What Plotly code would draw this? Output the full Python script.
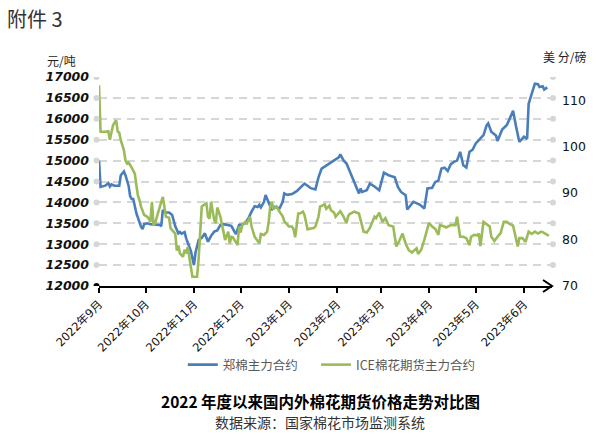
import plotly.graph_objects as go

# ---------------- data ----------------
zce_dates = [
    "2022-09-01", "2022-09-02", "2022-09-05", "2022-09-07", "2022-09-08", "2022-09-09", "2022-09-11",
    "2022-09-14", "2022-09-15", "2022-09-17", "2022-09-18", "2022-09-19", "2022-09-20", "2022-09-21",
    "2022-09-22", "2022-09-23", "2022-09-24", "2022-09-25", "2022-09-28", "2022-09-29", "2022-09-30",
    "2022-10-02", "2022-10-04", "2022-10-07", "2022-10-10", "2022-10-11", "2022-10-12", "2022-10-14",
    "2022-10-16", "2022-10-18", "2022-10-20", "2022-10-22", "2022-10-23", "2022-10-24", "2022-10-26",
    "2022-10-27", "2022-10-30", "2022-11-01", "2022-11-02", "2022-11-04", "2022-11-06", "2022-11-08",
    "2022-11-10", "2022-11-12", "2022-11-14", "2022-11-16", "2022-11-18", "2022-11-20", "2022-11-23",
    "2022-11-25", "2022-11-27", "2022-11-28", "2022-11-30", "2022-12-02", "2022-12-04", "2022-12-06",
    "2022-12-08", "2022-12-10", "2022-12-12", "2022-12-13", "2022-12-14", "2022-12-16", "2022-12-17",
    "2022-12-19", "2022-12-21", "2022-12-22", "2022-12-24", "2022-12-26", "2022-12-28", "2022-12-29",
    "2022-12-31", "2023-01-03", "2023-01-06", "2023-01-09", "2023-01-11", "2023-01-13", "2023-01-15",
    "2023-01-18", "2023-01-20", "2023-01-22", "2023-01-24", "2023-01-27", "2023-01-30", "2023-02-02",
    "2023-02-03", "2023-02-05", "2023-02-07", "2023-02-10", "2023-02-13", "2023-02-15", "2023-02-16",
    "2023-02-17", "2023-02-20", "2023-02-22", "2023-02-25", "2023-02-28", "2023-03-03", "2023-03-06",
    "2023-03-10", "2023-03-12", "2023-03-14", "2023-03-17", "2023-03-18", "2023-03-20", "2023-03-22",
    "2023-03-26", "2023-03-29", "2023-03-31", "2023-04-03", "2023-04-05", "2023-04-07", "2023-04-09",
    "2023-04-11", "2023-04-13", "2023-04-15", "2023-04-17", "2023-04-19", "2023-04-21", "2023-04-23",
    "2023-04-25", "2023-04-27", "2023-04-29", "2023-05-01", "2023-05-03", "2023-05-06", "2023-05-08",
    "2023-05-09", "2023-05-11", "2023-05-14", "2023-05-15", "2023-05-16", "2023-05-18", "2023-05-21",
    "2023-05-23", "2023-05-25", "2023-05-27", "2023-05-29", "2023-05-31", "2023-06-01", "2023-06-03",
    "2023-06-04", "2023-06-06", "2023-06-08", "2023-06-10", "2023-06-11", "2023-06-13", "2023-06-14",
    "2023-06-16",
]
zce_values = [
    15000, 14370, 14400, 14460, 14380, 14430, 14400,
    14400, 14650, 14740, 14650, 14500, 14400, 14150,
    14080, 14080, 13935, 13740, 13420, 13360, 13480,
    13500, 13480, 13470, 13460, 13430, 13815, 13760,
    13760, 13700, 13430, 13260, 13290, 13250, 13290,
    13140, 12840, 12500, 12800, 13100, 13150, 13260,
    13060, 13200, 13300, 13330, 13460, 13480, 13460,
    13440, 13300, 13240, 13460, 13470, 13500, 13620,
    13780, 13910, 13890, 13940, 13880, 14015, 14175,
    14015, 13815, 13900, 13880, 13860, 14015, 14215,
    14180, 14200, 14270, 14370, 14450, 14400, 14340,
    14310, 14600, 14810, 14860, 14930, 14995, 15075,
    15150, 15010, 14930, 14650, 14410, 14215, 14330,
    14250, 14290, 14450, 14380, 14290, 14710, 14650,
    14600, 14370, 14250, 14170, 13830, 13930, 14015,
    13950, 13855, 14335, 14350, 14490, 14520, 14810,
    14830, 14750, 14915, 14970, 15000, 15210, 14890,
    14835, 15210, 15260, 15410, 15490, 15610, 15845,
    15890, 15690, 15600, 15470, 15560, 15745, 15850,
    16045, 16190, 15800, 15450, 15530, 15570, 15520,
    16360, 16600, 16840, 16830, 16760, 16780, 16700,
    16750,
]

ice_dates = [
    "2022-09-01", "2022-09-02", "2022-09-05", "2022-09-07", "2022-09-08", "2022-09-09", "2022-09-10",
    "2022-09-12", "2022-09-13", "2022-09-14", "2022-09-15", "2022-09-17", "2022-09-18", "2022-09-19",
    "2022-09-20", "2022-09-22", "2022-09-23", "2022-09-24", "2022-09-25", "2022-09-26", "2022-09-27",
    "2022-09-28", "2022-09-30", "2022-10-02", "2022-10-03", "2022-10-04", "2022-10-05", "2022-10-06",
    "2022-10-07", "2022-10-09", "2022-10-10", "2022-10-11", "2022-10-12", "2022-10-14", "2022-10-16",
    "2022-10-17", "2022-10-18", "2022-10-20", "2022-10-21", "2022-10-22", "2022-10-23", "2022-10-25",
    "2022-10-26", "2022-10-27", "2022-10-28", "2022-10-29", "2022-10-30", "2022-10-31", "2022-11-01",
    "2022-11-03", "2022-11-04", "2022-11-05", "2022-11-06", "2022-11-07", "2022-11-09", "2022-11-10",
    "2022-11-11", "2022-11-12", "2022-11-13", "2022-11-14", "2022-11-15", "2022-11-16", "2022-11-18",
    "2022-11-19", "2022-11-20", "2022-11-21", "2022-11-22", "2022-11-23", "2022-11-24", "2022-11-25",
    "2022-11-26", "2022-11-28", "2022-11-29", "2022-11-30", "2022-12-01", "2022-12-02", "2022-12-04",
    "2022-12-05", "2022-12-07", "2022-12-08", "2022-12-10", "2022-12-11", "2022-12-13", "2022-12-14",
    "2022-12-16", "2022-12-18", "2022-12-19", "2022-12-20", "2022-12-21", "2022-12-22", "2022-12-24",
    "2022-12-26", "2022-12-28", "2022-12-29", "2022-12-31", "2023-01-01", "2023-01-03", "2023-01-04",
    "2023-01-05", "2023-01-06", "2023-01-07", "2023-01-08", "2023-01-10", "2023-01-11", "2023-01-13",
    "2023-01-15", "2023-01-17", "2023-01-18", "2023-01-20", "2023-01-21", "2023-01-22", "2023-01-24",
    "2023-01-25", "2023-01-27", "2023-01-28", "2023-01-30", "2023-01-31", "2023-02-03", "2023-02-05",
    "2023-02-07", "2023-02-08", "2023-02-09", "2023-02-12", "2023-02-15", "2023-02-16", "2023-02-18",
    "2023-02-20", "2023-02-22", "2023-02-25", "2023-02-26", "2023-02-28", "2023-03-02", "2023-03-04",
    "2023-03-06", "2023-03-09", "2023-03-11", "2023-03-13", "2023-03-15", "2023-03-17", "2023-03-19",
    "2023-03-21", "2023-03-24", "2023-03-25", "2023-03-27", "2023-03-29", "2023-03-31", "2023-04-01",
    "2023-04-03", "2023-04-05", "2023-04-07", "2023-04-08", "2023-04-10", "2023-04-12", "2023-04-15",
    "2023-04-17", "2023-04-18", "2023-04-19", "2023-04-21", "2023-04-23", "2023-04-25", "2023-04-27",
    "2023-04-28", "2023-04-30", "2023-05-02", "2023-05-03", "2023-05-04", "2023-05-06", "2023-05-08",
    "2023-05-10", "2023-05-11", "2023-05-13", "2023-05-15", "2023-05-17", "2023-05-19", "2023-05-21",
    "2023-05-23", "2023-05-25", "2023-05-28", "2023-05-29", "2023-05-31", "2023-06-02", "2023-06-04",
    "2023-06-06", "2023-06-08", "2023-06-10", "2023-06-12", "2023-06-13", "2023-06-16", "2023-06-17",
]
ice_values = [
    113.2, 103.2, 103.2, 103.3, 101.5, 103.3, 104.6,
    105.7, 103.3, 103.0, 101.4, 99.2, 97.0, 96.4,
    96.6, 95.5, 94.9, 94.2, 91.7, 89.5, 88.5,
    87.1, 85.3, 84.9, 84.5, 83.8, 88.1, 83.1,
    83.5, 85.5, 87.0, 88.1, 89.2, 84.9, 84.7,
    82.4, 82.0, 81.3, 77.6, 78.7, 77.0, 76.3,
    77.8, 77.0, 78.4, 76.0, 74.2, 72.0, 72.0,
    72.0, 75.9, 80.6, 87.1, 87.4, 87.8, 84.9,
    84.5, 88.1, 86.5, 84.2, 83.5, 86.9, 84.9,
    82.8, 81.6, 79.9, 81.0, 81.7, 79.2, 80.6,
    80.5, 79.2, 78.8, 82.8, 81.5, 83.1, 83.8,
    83.5, 84.9, 82.8, 80.6, 80.1, 79.2, 81.2,
    81.0, 81.7, 83.8, 87.1, 88.1, 86.5, 87.1,
    86.0, 85.0, 84.0, 83.1, 82.8, 82.8, 82.2,
    80.5, 82.8, 85.6, 85.6, 86.0, 85.3, 82.2,
    82.4, 82.5, 82.8, 84.9, 87.1, 87.3, 87.6,
    86.6, 87.3, 86.3, 85.8, 84.9, 86.1, 85.0,
    83.5, 85.0, 85.5, 86.0, 85.6, 84.3, 81.7,
    81.5, 82.5, 84.9, 84.6, 85.8, 83.8, 84.6,
    83.1, 82.8, 78.5, 79.8, 81.3, 79.1, 77.7,
    77.2, 78.1, 76.9, 77.8, 80.0, 82.8, 83.6,
    82.8, 82.3, 81.0, 83.1, 82.9, 82.6, 83.1,
    83.0, 83.1, 84.9, 80.6, 80.6, 80.3, 78.8,
    80.6, 81.0, 80.9, 81.3, 78.6, 83.8, 83.3,
    82.8, 80.6, 79.7, 80.6, 81.4, 83.8, 83.8,
    83.3, 83.0, 78.5, 80.3, 80.3, 79.5, 81.7,
    81.2, 81.7, 81.3, 81.7, 81.6, 81.0, 80.8,
]

month_ticks = ["2022-09-01", "2022-10-01", "2022-11-01", "2022-12-01", "2023-01-01",
               "2023-02-01", "2023-03-01", "2023-04-01", "2023-05-01", "2023-06-01"]
month_labels = ["2022年9月", "2022年10月", "2022年11月", "2022年12月", "2023年1月",
                "2023年2月", "2023年3月", "2023年4月", "2023年5月", "2023年6月"]
left_ticks = [12000, 12500, 13000, 13500, 14000, 14500, 15000, 15500, 16000, 16500, 17000]
right_ticks = [70, 80, 90, 100, 110]
x_range = ["2022-09-01", "2023-06-19"]

series_names = ["郑棉主力合约", "ICE棉花期货主力合约"]
colors = ["#4A7EBB", "#9BBB59"]

CJK = "Noto Sans CJK SC"
NUM = "DejaVu Sans, Noto Sans CJK SC"

fig = go.Figure()
fig.add_trace(go.Scatter(x=zce_dates, y=zce_values, name=series_names[0], mode="lines",
                         line=dict(color=colors[0], width=2.6), yaxis="y", legend="legend"))
fig.add_trace(go.Scatter(x=ice_dates, y=ice_values, name=series_names[1], mode="lines",
                         line=dict(color=colors[1], width=2.6), yaxis="y2", legend="legend2"))

shapes = []
# dots at the ends of grid lines
for v in left_ticks:
    shapes.append(dict(type="circle", xref="paper", xsizemode="pixel", xanchor=0,
                       x0=-5.5, x1=0.5, yref="y", ysizemode="pixel", yanchor=v, y0=-3, y1=3,
                       fillcolor="black" if v == left_ticks[0] else "#d6d6d6", line=dict(width=0)))
    if v != left_ticks[0]:
        shapes.append(dict(type="circle", xref="paper", xsizemode="pixel", xanchor=1,
                           x0=-2, x1=4, yref="y", ysizemode="pixel", yanchor=v, y0=-3, y1=3,
                           fillcolor="#d6d6d6", line=dict(width=0)))
# arrow head at end of x-axis
shapes.append(dict(type="path", xref="paper", xsizemode="pixel", xanchor=1,
                   yref="paper", ysizemode="pixel", yanchor=0,
                   path="M -9 6 L 0 0 L -9 -6", line=dict(color="black", width=2)))

annotations = [
    dict(text="附件 3", xref="paper", yref="paper", x=-0.2075, y=1.282, xanchor="left",
         yanchor="middle", showarrow=False, font=dict(family=CJK, size=20, color="#333333")),
    dict(text="元/吨", xref="paper", yref="paper", x=-0.0817, y=1.081, xanchor="center",
         yanchor="middle", showarrow=False, font=dict(family=CJK, size=12, color="#222222")),
    dict(text="美 分/磅", xref="paper", yref="paper", x=1.027, y=1.096, xanchor="center",
         yanchor="middle", showarrow=False, font=dict(family=CJK, size=12, color="#222222")),
    dict(text="<b>2022 年度以来国内外棉花期货价格走势对比图</b>", xref="paper", yref="paper",
         x=0.488, y=-0.551, xanchor="center", yanchor="middle", showarrow=False,
         font=dict(family=CJK, size=15.5, color="black")),
    dict(text="数据来源：国家棉花市场监测系统", xref="paper", yref="paper",
         x=0.488, y=-0.652, xanchor="center", yanchor="middle", showarrow=False,
         font=dict(family=CJK, size=14, color="#333333")),
]

legend_font = dict(family=CJK, size=12.5, color="#595959")

fig.update_layout(
    width=600, height=438,
    margin=dict(l=99, r=48, t=77, b=152, autoexpand=False),
    paper_bgcolor="white", plot_bgcolor="white",
    showlegend=True,
    legend=dict(orientation="h", x=0.185, y=-0.378, xanchor="left", yanchor="middle",
                font=legend_font, bgcolor="rgba(0,0,0,0)"),
    legend2=dict(orientation="h", x=0.479, y=-0.378, xanchor="left", yanchor="middle",
                 font=legend_font, bgcolor="rgba(0,0,0,0)"),
    xaxis=dict(type="date", range=x_range, tickvals=month_ticks, ticktext=month_labels,
               tickangle=-45, showgrid=False, zeroline=False, automargin=False,
               showline=True, linecolor="black", linewidth=2,
               ticks="outside", ticklen=5, tickwidth=2, tickcolor="black",
               tickfont=dict(family=NUM, size=11.5, color="#111111")),
    yaxis=dict(range=[12000, 17000], tickvals=left_ticks, tickformat="d", showgrid=True,
               gridcolor="#d6d6d6", gridwidth=2, griddash="8px,6px", zeroline=False,
               showline=False, ticks="", ticklabelstandoff=9, automargin=False,
               tickfont=dict(family=NUM, size=12.5, color="#111111", style="italic", weight="bold")),
    yaxis2=dict(range=[70, 115], tickvals=right_ticks, overlaying="y", side="right",
                showgrid=False, zeroline=False, showline=False, ticks="", ticklabelstandoff=9,
                automargin=False,
                tickfont=dict(family=NUM, size=12.5, color="#111111")),
    shapes=shapes,
    annotations=annotations,
)

fig.write_html("out.html", config={"displayModeBar": False},
               post_script="document.body.style.margin='0px';")
